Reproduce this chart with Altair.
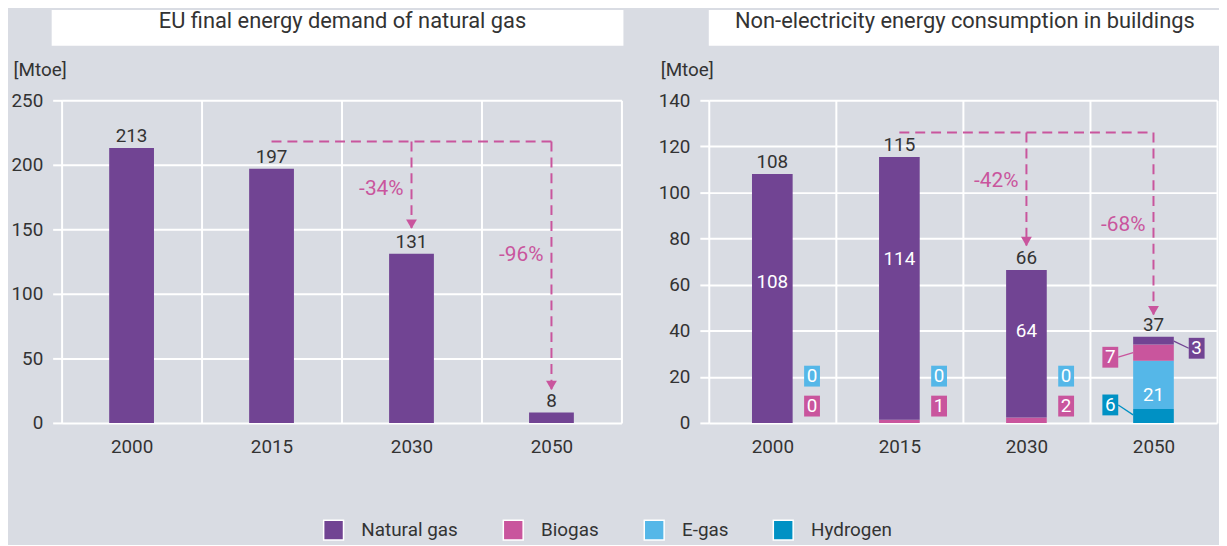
import altair as alt
import pandas as pd

# ---------------- data ----------------
years = ["2000", "2015", "2030", "2050"]
gas_demand = [213, 197, 131, 8]

natural_gas = [108, 114, 64, 3.4]
biogas = [0, 1.4, 2.4, 7]
egas = [0, 0, 0, 21]
hydrogen = [0, 0, 0, 6]

carriers = ["Natural gas", "Biogas", "E-gas", "Hydrogen"]
carrier_colors = ["#714493", "#c9559d", "#55b7e8", "#0091c4"]

left_title = "EU final energy demand of natural gas"
right_title = "Non-electricity energy consumption in buildings"
unit = "[Mtoe]"
left_changes = ["-34%", "-96%"]
right_changes = ["-42%", "-68%"]

# ---------------- style ----------------
BG = "#d9dce3"
TXT = "#333333"
PINK = "#c9559d"
FONT = "Roboto"
FS = 19
H = 325
WL, WR = 564, 512

def x_enc():
    return alt.X("year:N", sort=years,
                 scale=alt.Scale(domain=years, paddingInner=0, paddingOuter=0),
                 axis=alt.Axis(title=None, labelAngle=0, tickBand="extent", grid=True,
                               gridColor="white", gridWidth=2, ticks=False, domain=False,
                               labelPadding=15, labelFontSize=FS, labelColor=TXT))

def y_enc(field, top, step):
    return alt.Y(field, scale=alt.Scale(domain=[0, top], nice=False),
                 axis=alt.Axis(values=list(range(0, top + 1, step)), title=unit,
                               titleAngle=0, titleAlign="left", titleBaseline="middle",
                               titleX=-49, titleY=-31, titleFontSize=FS,
                               titleFontWeight="normal", titleColor=TXT,
                               grid=True, gridColor="white", gridWidth=2,
                               tickColor="white", tickWidth=2, tickSize=9, domain=False,
                               labelPadding=10, labelFontSize=FS, labelColor=TXT))

def title_box(text, x0, x1, xc):
    d = pd.DataFrame({"t": [text]})
    rect = alt.Chart(d).mark_rect(color="white").encode(
        x=alt.value(x0), x2=alt.value(x1), y=alt.value(-91), y2=alt.value(-55))
    txt = alt.Chart(d).mark_text(fontSize=22, color=TXT, baseline="middle").encode(
        x=alt.value(xc), y=alt.value(-80), text="t:N")
    return rect + txt

def arrows(h_y, targets, tips, label_ys, labels, dxs):
    h = pd.DataFrame({"a": ["2015"], "b": ["2050"], "y": [h_y]})
    v = pd.DataFrame({"year": targets, "y1": [h_y] * len(targets), "y2": tips,
                      "ly": label_ys, "lab": labels})
    hr = alt.Chart(h).mark_rule(color=PINK, strokeWidth=2, strokeDash=[10, 6]).encode(
        x=alt.X("a:N", sort=years), x2="b:N", y="y:Q")
    vr = alt.Chart(v).mark_rule(color=PINK, strokeWidth=2, strokeDash=[10, 6]).encode(
        x=alt.X("year:N", sort=years), y="y1:Q", y2="y2:Q")
    tip = alt.Chart(v).mark_point(shape="triangle-down", filled=True, color=PINK,
                                  opacity=1, size=120, yOffset=-4).encode(
        x=alt.X("year:N", sort=years), y="y2:Q")
    lab = alt.Chart(v).mark_text(color=PINK, fontSize=21, align="right",
                                 baseline="middle", dx=-8).encode(
        x=alt.X("year:N", sort=years), y="ly:Q", text="lab:N")
    return hr + vr + tip + lab

# ---------------- left panel ----------------
df_left = pd.DataFrame({"year": years, "value": gas_demand})
base_l = alt.Chart(df_left).encode(x=x_enc(), y=y_enc("value:Q", 250, 50))
bars_l = base_l.mark_bar(color=carrier_colors[0], width=alt.RelativeBandSize(0.32))
text_l = base_l.mark_text(fontSize=FS, color=TXT, baseline="bottom", dy=-2).encode(
    text="value:Q")
left = alt.layer(
    title_box(left_title, -10, 566, 283),
    bars_l, text_l,
    arrows(218, ["2030", "2050"], [151, 26], [181, 130], left_changes, [-8, -7]),
).properties(width=WL, height=H)

# ---------------- right panel ----------------
rows = []
for i, y in enumerate(years):
    for c, vals, o in [("Hydrogen", hydrogen, 0), ("E-gas", egas, 1),
                       ("Biogas", biogas, 2), ("Natural gas", natural_gas, 3)]:
        rows.append({"year": y, "carrier": c, "value": vals[i], "ord": o})
df_right = pd.DataFrame(rows)
totals = pd.DataFrame({"year": years,
                       "total": [natural_gas[i] + biogas[i] + egas[i] + hydrogen[i]
                                 for i in range(4)]})

cscale = alt.Scale(domain=carriers, range=carrier_colors)
bars_r = alt.Chart(df_right).mark_bar(width=alt.RelativeBandSize(0.32)).encode(
    x=x_enc(),
    y=y_enc("sum(value):Q", 140, 20),
    color=alt.Color("carrier:N", scale=cscale, sort=carriers,
                    legend=alt.Legend(title=None, orient="none", direction="horizontal",
                                      legendX=263, legendY=422, symbolType="square",
                                      symbolSize=400, symbolStrokeColor="white",
                                      symbolStrokeWidth=1.5, labelFontSize=FS,
                                      labelColor=TXT, labelOffset=17,
                                      columnPadding=42)),
    order=alt.Order("ord:Q"),
)
tot_r = alt.Chart(totals).mark_text(fontSize=FS, color=TXT, baseline="bottom", dy=-2).encode(
    x=alt.X("year:N", sort=years), y="total:Q", text=alt.Text("total:Q", format=".0f"))

# white labels inside bars (positions in data units)
inner = pd.DataFrame({"year": years,
                      "lab": [natural_gas[0], natural_gas[1], natural_gas[2], egas[3]],
                      "ypos": [61, 71, 40, 12]})
inner_r = alt.Chart(inner).mark_text(fontSize=FS, color="white", baseline="middle").encode(
    x=alt.X("year:N", sort=years), y="ypos:Q", text=alt.Text("lab:Q", format=".0f"))

BOX = "M-0.76,-1L0.76,-1L0.76,1L-0.76,1Z"
fscale = alt.Scale(domain=carriers, range=carrier_colors)

def boxes(df, off):
    pt = alt.Chart(df).mark_point(shape=BOX, filled=True, opacity=1, size=441,
                                  xOffset=off).encode(
        x=alt.X("year:N", sort=years), y="ypos:Q",
        fill=alt.Fill("carrier:N", scale=fscale, legend=None))
    tx = alt.Chart(df).mark_text(fontSize=FS, color="white", baseline="middle",
                                 xOffset=off).encode(
        x=alt.X("year:N", sort=years), y="ypos:Q",
        text=alt.Text("lab:Q", format=".0f"))
    return pt + tx

side = pd.DataFrame({
    "year": ["2000", "2000", "2015", "2015", "2030", "2030"],
    "carrier": ["E-gas", "Biogas"] * 3,
    "lab": [egas[0], biogas[0], egas[1], biogas[1], egas[2], biogas[2]],
    "ypos": [20.3, 7.3, 20.3, 7.3, 20.3, 7.3],
})
left50 = pd.DataFrame({"year": ["2050", "2050"], "carrier": ["Biogas", "Hydrogen"],
                       "lab": [biogas[3], hydrogen[3]], "ypos": [28.5, 7.8]})
right50 = pd.DataFrame({"year": ["2050"], "carrier": ["Natural gas"],
                        "lab": [natural_gas[3]], "ypos": [32.4]})

def connector(y_from, y_to, off_from, off_to, color):
    d = pd.DataFrame({"year": ["2050"], "a": [y_from], "b": [y_to]})
    return alt.Chart(d).mark_rule(color=color, strokeWidth=1.3,
                                  xOffset=off_from, x2Offset=off_to).encode(
        x=alt.X("year:N", sort=years), x2="year:N", y="a:Q", y2="b:Q")

conns = (connector(28.5, 30.5, -35.5, -20.5, carrier_colors[1])
         + connector(7.8, 3.5, -35.5, -20.5, carrier_colors[3])
         + connector(35.5, 32.4, 20.5, 35.5, carrier_colors[0]))

right = alt.layer(
    title_box(right_title, 0, 514, 258),
    bars_r, tot_r, inner_r,
    arrows(126, ["2030", "2050"], [77, 47], [105, 86], right_changes, [-8, -6]),
    conns,
    boxes(side, 40), boxes(left50, -43.5), boxes(right50, 43.5),
).properties(width=WR, height=H)

chart = alt.hconcat(left, right, spacing=34).resolve_scale(
    y="independent", fill="shared"
).properties(
    padding={"left": 2, "top": 0, "right": 0, "bottom": 0}
).configure(
    background=BG, font=FONT
).configure_view(strokeWidth=0)

chart.save("out.html", embed_options={"renderer": "svg", "actions": False})
